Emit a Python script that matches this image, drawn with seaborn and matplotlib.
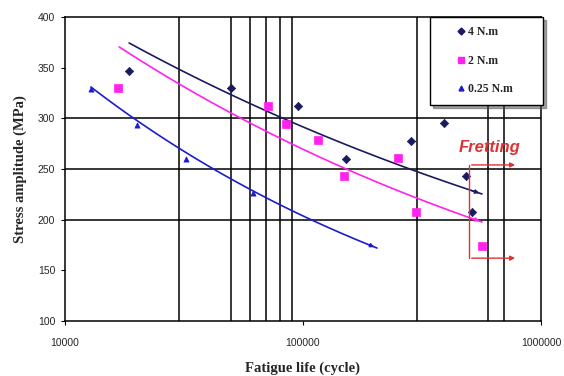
import numpy as np
import pandas as pd
import matplotlib
matplotlib.use("Agg")
import matplotlib.pyplot as plt
import seaborn as sns
from matplotlib.lines import Line2D

# ---- data ----
n_4 = [18600, 50000, 95300, 151600, 284000, 391000, 484000, 513000]
s_4 = [347, 330, 312, 260, 278, 295, 243, 208]
n_2 = [16700, 71300, 84900, 115600, 148600, 250600, 298500, 565000]
s_2 = [330, 312, 294, 279, 243, 261, 208, 174]
n_025 = [12850, 20100, 32200, 61700]
s_025 = [329, 293, 260, 226]

series_names = ["4 N.m", "2 N.m", "0.25 N.m"]
# power-law trend lines S = a * N^b (coefficients)
trend_a = [1615, 2116, 3101]
trend_b = [-0.1487, -0.179, -0.2365]
trend_start = [18600, 16900, 12850]
trend_end = [565000, 565000, 204600]

grid_x = [30000, 50000, 60000, 70000, 80000, 90000, 300000, 600000, 700000]
grid_y = [200, 250, 300]
y_ticks = [100, 150, 200, 250, 300, 350, 400]
x_ticks = [10000, 100000, 1000000]

colors = ["#1a1a60", "#ff22ee", "#1c1ccc"]
markers = ["D", "s", "^"]
sizes = [18, 34, 14]

sns.set_theme(style="white")
plt.rcParams["font.family"] = ["Liberation Sans", "DejaVu Sans"]

df = pd.DataFrame({
    "N": n_4 + n_2 + n_025,
    "S": s_4 + s_2 + s_025,
    "load": [series_names[0]] * len(n_4) + [series_names[1]] * len(n_2) + [series_names[2]] * len(n_025),
})

fig = plt.figure(figsize=(5.64, 3.76), dpi=100)
ax = fig.add_axes([0.1152, 0.1463, 0.844, 0.8085])
ax.set_xscale("log")

for gx in grid_x:
    ax.axvline(gx, color="black", lw=1.1, zorder=1)
for gy in grid_y:
    ax.axhline(gy, color="black", lw=1.1, zorder=1)

# trend lines
for name, a, b, n0, n1, c in zip(series_names, trend_a, trend_b, trend_start, trend_end, colors):
    nn = np.logspace(np.log10(n0), np.log10(n1), 80)
    tdf = pd.DataFrame({"N": nn, "S": a * nn ** b})
    sns.lineplot(data=tdf, x="N", y="S", ax=ax, color=c, lw=1.2, zorder=3, legend=False)
    ax.annotate("", xy=(nn[-1], tdf["S"].iloc[-1]), xytext=(nn[-4], tdf["S"].iloc[-4]),
                arrowprops=dict(arrowstyle="-|>", color=c, lw=1.0, mutation_scale=6), zorder=3)

for name, c, m, s in zip(series_names, colors, markers, sizes):
    sub = df[df["load"] == name]
    sns.scatterplot(data=sub, x="N", y="S", ax=ax, color=c, marker=m, s=s,
                    edgecolor=c, linewidth=0.5, zorder=4, legend=False)

ax.set_xlim(10000, 1000000)
ax.set_ylim(100, 400)
ax.set_yticks(y_ticks)
ax.set_xticks(x_ticks)
ax.set_xticklabels([str(v) for v in x_ticks])
ax.minorticks_off()
ax.tick_params(axis="both", labelsize=7.5, length=3, width=0.8, color="black",
               direction="out", left=True, bottom=True, pad=4)
ax.tick_params(axis="x", pad=9)
for sp in ax.spines.values():
    sp.set_color("black")
    sp.set_linewidth(1.1)

ax.set_xlabel("Fatigue life (cycle)", family="Liberation Serif", fontweight="bold", fontsize=10.5, labelpad=10)
ax.set_ylabel("Stress amplitude (MPa)", family="Liberation Serif", fontweight="bold", fontsize=10.5, labelpad=8)

# Fretting annotation
red = "#dd3333"
ax.plot([498000, 498000], [162, 254], color=red, lw=1.0, zorder=5)
for yy in [254, 162]:
    ax.annotate("", xy=(800000, yy), xytext=(498000, yy),
                arrowprops=dict(arrowstyle="-|>", color=red, lw=1.0, mutation_scale=7), zorder=5)
ax.text(611000, 271, "Fretting", color=red, fontsize=12, fontstyle="italic", fontweight="bold",
        ha="center", va="center", zorder=5)

handles = [Line2D([], [], ls="none", marker=m, color=c, markersize=ms, markeredgecolor=c)
           for c, m, ms in zip(colors, markers, [3.5, 5, 3.5])]
leg = ax.legend(handles, series_names, loc="upper left",
                bbox_to_anchor=(0.767, 0.0, 0.237, 1.0), mode="expand",
                frameon=True, fancybox=False, shadow=True, borderpad=0.8, labelspacing=1.4,
                handlelength=3.6, handletextpad=-1.15, borderaxespad=0,
                prop={"family": "Liberation Serif", "weight": "bold", "size": 8.5})
leg.get_frame().set_edgecolor("black")
leg.get_frame().set_linewidth(1.0)
leg.set_zorder(10)

fig.savefig("out.png", dpi=100, facecolor="white")
